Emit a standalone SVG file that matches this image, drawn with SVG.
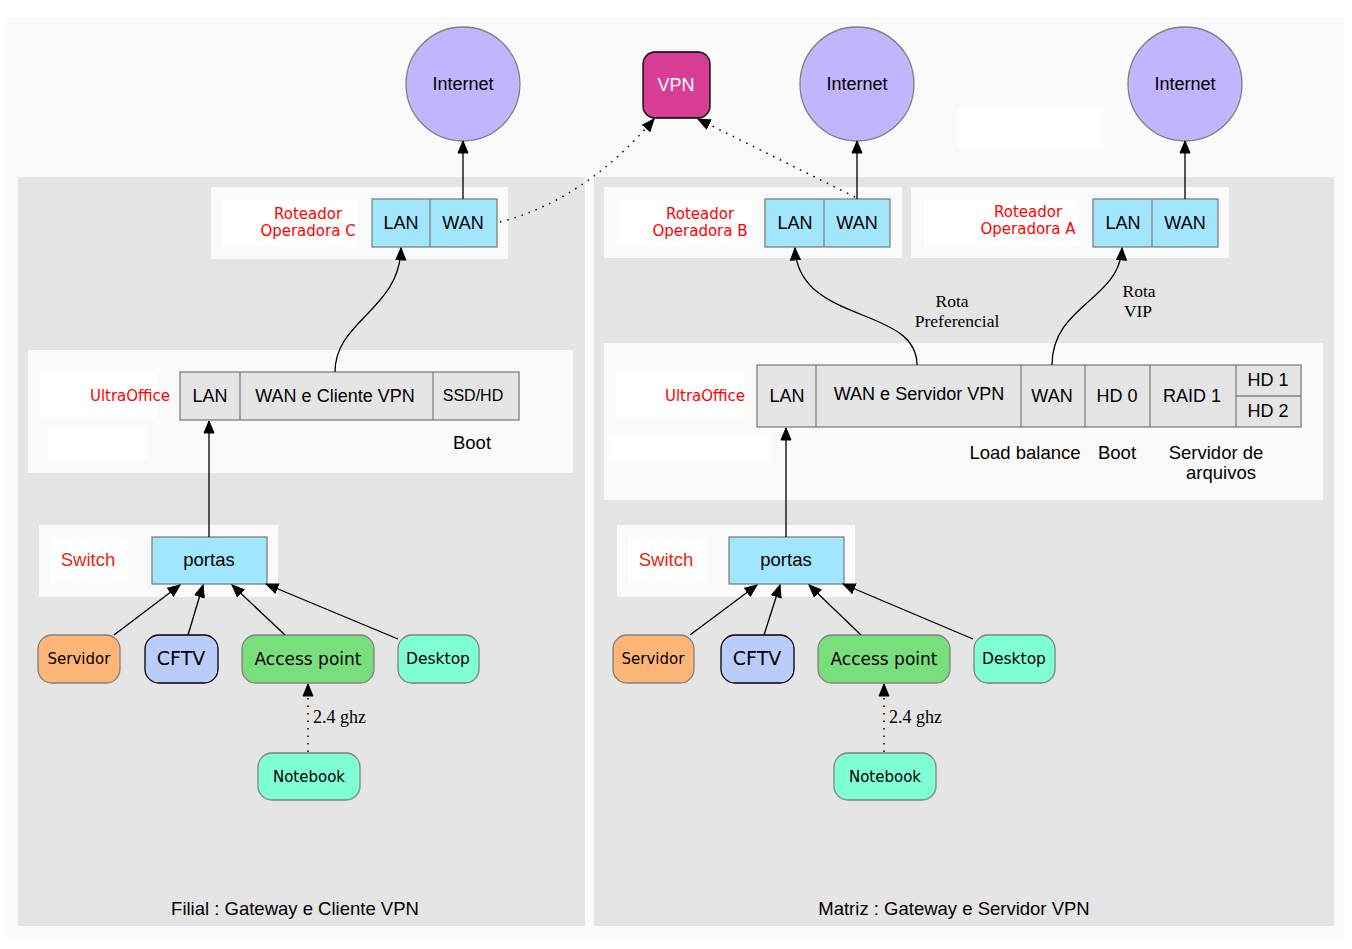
<svg xmlns="http://www.w3.org/2000/svg" width="1352" height="949" viewBox="0 0 1352 949">
<defs>
<marker id="ah" markerUnits="userSpaceOnUse" markerWidth="14" markerHeight="12" refX="12.5" refY="5.5" orient="auto" viewBox="0 0 14 11">
<path d="M0.5,0.5 L12.5,5.5 L0.5,10.5 z" fill="#000" stroke="#000" stroke-width="1"/>
</marker>
<style>
.bg{fill:#fafafa}
.cl{fill:#e5e5e5}
.sub{fill:#fafafa}
.wh{fill:#ffffff}
.rec{fill:#a1e6fd;stroke:#808080;stroke-width:1.3}
.grec{fill:#e5e5e5;stroke:#808080;stroke-width:1.3}
.inet{fill:#c1b5fd;stroke:#808080;stroke-width:1.3}
.sans{font-family:"Liberation Sans",Arial,sans-serif;fill:#000}
.dv{font-family:"DejaVu Sans",sans-serif;fill:#000}
.ser{font-family:"Liberation Serif","Times New Roman",serif;fill:#000}
.red{font-family:"DejaVu Sans",sans-serif;fill:#ff0000;font-size:15px}
.sw{font-family:"Liberation Sans",Arial,sans-serif;fill:#e2290f;font-size:18.5px}
.e{fill:none;stroke:#000;stroke-width:1.3;marker-end:url(#ah)}
.d{fill:none;stroke:#000;stroke-width:1.5;stroke-dasharray:1.5,6;marker-end:url(#ah)}
.nd{stroke:#808080;stroke-width:1.3}
</style>
</defs>
<rect x="0" y="0" width="1352" height="949" fill="#ffffff"/>
<rect class="bg" x="7" y="17" width="1337" height="920"/>
<rect class="wh" x="958" y="109" width="145" height="40"/>

<g id="cluster_filial">
<rect class="cl" x="18" y="177" width="567" height="749"/>
<text class="sans" x="295" y="915" font-size="18.5" text-anchor="middle">Filial : Gateway e Cliente VPN</text>
</g>
<g id="cluster_matriz">
<rect class="cl" x="594" y="177" width="740" height="749"/>
<text class="sans" x="954" y="915" font-size="18.5" text-anchor="middle">Matriz : Gateway e Servidor VPN</text>
</g>

<g id="internet_c"><circle class="inet" cx="463" cy="84" r="57"/><text class="sans" x="463" y="90" font-size="18" text-anchor="middle">Internet</text></g>
<g id="internet_b"><circle class="inet" cx="857" cy="84" r="57"/><text class="sans" x="857" y="90" font-size="18" text-anchor="middle">Internet</text></g>
<g id="internet_a"><circle class="inet" cx="1185" cy="84" r="57"/><text class="sans" x="1185" y="90" font-size="18" text-anchor="middle">Internet</text></g>
<g id="vpn"><rect x="643" y="52" width="67" height="66" rx="12" fill="#d73d95" stroke="#000" stroke-width="1.3"/><text class="sans" x="676" y="91" font-size="18" style="fill:#ffffff" text-anchor="middle">VPN</text></g>

<g id="roteador_c">
<rect class="sub" x="211" y="187" width="297" height="72"/>
<rect class="wh" x="223" y="200" width="135" height="47"/>
<text class="red" x="308" y="219" text-anchor="middle">Roteador</text>
<text class="red" x="308" y="236" text-anchor="middle">Operadora C</text>
<rect class="rec" x="372" y="199" width="125" height="48"/>
<line x1="430" y1="199" x2="430" y2="247" stroke="#808080" stroke-width="1.3"/>
<text class="sans" x="401" y="229" font-size="18" text-anchor="middle">LAN</text>
<text class="sans" x="463" y="229" font-size="18" text-anchor="middle">WAN</text>
</g>
<g id="roteador_b">
<rect class="sub" x="604" y="187" width="298" height="71"/>
<rect class="wh" x="617" y="200" width="135" height="47"/>
<text class="red" x="700" y="219" text-anchor="middle">Roteador</text>
<text class="red" x="700" y="236" text-anchor="middle">Operadora B</text>
<rect class="rec" x="765" y="199" width="125" height="48"/>
<line x1="824" y1="199" x2="824" y2="247" stroke="#808080" stroke-width="1.3"/>
<text class="sans" x="795" y="229" font-size="18" text-anchor="middle">LAN</text>
<text class="sans" x="857" y="229" font-size="18" text-anchor="middle">WAN</text>
</g>
<g id="roteador_a">
<rect class="sub" x="911" y="187" width="318" height="71"/>
<rect class="wh" x="924" y="200" width="155" height="47"/>
<text class="red" x="1028" y="217" text-anchor="middle">Roteador</text>
<text class="red" x="1028" y="234" text-anchor="middle">Operadora A</text>
<rect class="rec" x="1093" y="199" width="125" height="48"/>
<line x1="1152" y1="199" x2="1152" y2="247" stroke="#808080" stroke-width="1.3"/>
<text class="sans" x="1123" y="229" font-size="18" text-anchor="middle">LAN</text>
<text class="sans" x="1185" y="229" font-size="18" text-anchor="middle">WAN</text>
</g>

<g id="ultraoffice_filial">
<rect class="sub" x="28" y="350" width="545" height="123"/>
<rect class="wh" x="40" y="373" width="117" height="47"/>
<rect class="wh" x="48" y="427" width="99" height="32"/>
<text class="red" x="130" y="401" text-anchor="middle">UltraOffice</text>
<rect class="grec" x="180" y="372" width="339" height="48"/>
<line x1="240" y1="372" x2="240" y2="420" stroke="#808080" stroke-width="1.3"/>
<line x1="433" y1="372" x2="433" y2="420" stroke="#808080" stroke-width="1.3"/>
<text class="sans" x="210" y="402" font-size="18" text-anchor="middle">LAN</text>
<text class="sans" x="335" y="402" font-size="18" text-anchor="middle">WAN e Cliente VPN</text>
<text class="sans" x="473" y="401" font-size="16" text-anchor="middle">SSD/HD</text>
<text class="sans" x="472" y="449" font-size="18.5" text-anchor="middle">Boot</text>
</g>

<g id="ultraoffice_matriz">
<rect class="sub" x="604" y="343" width="719" height="157"/>
<rect class="wh" x="616" y="373" width="128" height="47"/>
<rect class="wh" x="609" y="433" width="161" height="30"/>
<text class="red" x="705" y="401" text-anchor="middle">UltraOffice</text>
<rect class="grec" x="757" y="365" width="544" height="62"/>
<line x1="816" y1="365" x2="816" y2="427" stroke="#808080" stroke-width="1.3"/>
<line x1="1021" y1="365" x2="1021" y2="427" stroke="#808080" stroke-width="1.3"/>
<line x1="1085" y1="365" x2="1085" y2="427" stroke="#808080" stroke-width="1.3"/>
<line x1="1150" y1="365" x2="1150" y2="427" stroke="#808080" stroke-width="1.3"/>
<line x1="1236" y1="365" x2="1236" y2="427" stroke="#808080" stroke-width="1.3"/>
<line x1="1236" y1="396" x2="1301" y2="396" stroke="#808080" stroke-width="1.3"/>
<text class="sans" x="787" y="402" font-size="18" text-anchor="middle">LAN</text>
<text class="sans" x="919" y="400" font-size="18" text-anchor="middle">WAN e Servidor VPN</text>
<text class="sans" x="1052" y="402" font-size="18" text-anchor="middle">WAN</text>
<text class="sans" x="1117" y="402" font-size="18" text-anchor="middle">HD 0</text>
<text class="sans" x="1192" y="402" font-size="18" text-anchor="middle">RAID 1</text>
<text class="sans" x="1268" y="386" font-size="18" text-anchor="middle">HD 1</text>
<text class="sans" x="1268" y="417" font-size="18" text-anchor="middle">HD 2</text>
<text class="sans" x="1025" y="459" font-size="18.5" text-anchor="middle">Load balance</text>
<text class="sans" x="1117" y="459" font-size="18.5" text-anchor="middle">Boot</text>
<text class="sans" x="1216" y="459" font-size="18.5" text-anchor="middle">Servidor de</text>
<text class="sans" x="1221" y="479" font-size="18.5" text-anchor="middle">arquivos</text>
</g>

<g id="switch_filial">
<rect class="sub" x="39" y="525" width="239" height="72"/>
<rect class="wh" x="50" y="537" width="78" height="46"/>
<text class="sw" x="88" y="566" text-anchor="middle">Switch</text>
<rect class="rec" x="152" y="537" width="115" height="47"/>
<text class="sans" x="209" y="566" font-size="18.5" text-anchor="middle">portas</text>
</g>
<g id="switch_matriz">
<rect class="sub" x="617" y="525" width="238" height="72"/>
<rect class="wh" x="628" y="537" width="78" height="46"/>
<text class="sw" x="666" y="566" text-anchor="middle">Switch</text>
<rect class="rec" x="729" y="537" width="115" height="47"/>
<text class="sans" x="786" y="566" font-size="18.5" text-anchor="middle">portas</text>
</g>

<g id="servidor_f"><rect class="nd" x="38" y="635" width="82" height="48" rx="14" fill="#fdb577"/><text class="dv" x="79" y="664" font-size="15" text-anchor="middle">Servidor</text></g>
<g id="cftv_f"><rect x="145" y="635" width="73" height="48" rx="14" fill="#b9cdf8" stroke="#000" stroke-width="1.3"/><text class="dv" x="181" y="665" font-size="19" text-anchor="middle">CFTV</text></g>
<g id="ap_f"><rect class="nd" x="242" y="635" width="132" height="48" rx="14" fill="#79df7c"/><text class="dv" x="308" y="665" font-size="17" text-anchor="middle">Access point</text></g>
<g id="desktop_f"><rect class="nd" x="398" y="635" width="81" height="48" rx="14" fill="#7effd4"/><text class="dv" x="438" y="664" font-size="15.5" text-anchor="middle">Desktop</text></g>
<g id="notebook_f"><rect class="nd" x="258" y="753" width="102" height="47" rx="14" fill="#7effd4"/><text class="dv" x="309" y="782" font-size="15" text-anchor="middle">Notebook</text></g>

<g id="servidor_m"><rect class="nd" x="613" y="635" width="81" height="48" rx="14" fill="#fdb577"/><text class="dv" x="653" y="664" font-size="15" text-anchor="middle">Servidor</text></g>
<g id="cftv_m"><rect x="721" y="635" width="73" height="48" rx="14" fill="#b9cdf8" stroke="#000" stroke-width="1.3"/><text class="dv" x="757" y="665" font-size="19" text-anchor="middle">CFTV</text></g>
<g id="ap_m"><rect class="nd" x="818" y="635" width="132" height="48" rx="14" fill="#79df7c"/><text class="dv" x="884" y="665" font-size="17" text-anchor="middle">Access point</text></g>
<g id="desktop_m"><rect class="nd" x="974" y="635" width="81" height="48" rx="14" fill="#7effd4"/><text class="dv" x="1014" y="664" font-size="15.5" text-anchor="middle">Desktop</text></g>
<g id="notebook_m"><rect class="nd" x="834" y="753" width="102" height="47" rx="14" fill="#7effd4"/><text class="dv" x="885" y="782" font-size="15" text-anchor="middle">Notebook</text></g>

<g id="connectors">
<line class="e" x1="463" y1="199" x2="463" y2="141"/>
<line class="e" x1="857" y1="199" x2="857" y2="141"/>
<line class="e" x1="1185" y1="199" x2="1185" y2="141"/>
<path class="d" d="M500,222 Q585,200 654,119"/>
<path class="d" d="M855,197 L698,119"/>
<path class="e" d="M335,372 C335,320 400,310 401,248"/>
<path class="e" d="M917,365 C917,305 798,325 795,248"/>
<path class="e" d="M1052,365 C1052,305 1120,300 1122,248"/>
<text class="ser" x="952" y="307" font-size="17.5" text-anchor="middle">Rota</text>
<text class="ser" x="957" y="327" font-size="17.5" text-anchor="middle">Preferencial</text>
<text class="ser" x="1139" y="297" font-size="17.5" text-anchor="middle">Rota</text>
<text class="ser" x="1138" y="317" font-size="17.5" text-anchor="middle">VIP</text>
<line class="e" x1="209" y1="537" x2="209" y2="421"/>
<line class="e" x1="786" y1="537" x2="786" y2="428"/>
<line class="e" x1="114" y1="635" x2="180" y2="585"/>
<line class="e" x1="188" y1="635" x2="203" y2="585"/>
<line class="e" x1="285" y1="635" x2="232" y2="585"/>
<line class="e" x1="398" y1="639" x2="266" y2="584"/>
<line class="e" x1="690" y1="635" x2="757" y2="585"/>
<line class="e" x1="764" y1="635" x2="780" y2="585"/>
<line class="e" x1="861" y1="635" x2="809" y2="585"/>
<line class="e" x1="973" y1="639" x2="843" y2="584"/>
<line class="d" x1="308" y1="752" x2="308" y2="684"/>
<line class="d" x1="884" y1="752" x2="884" y2="684"/>
<text class="ser" x="313" y="723" font-size="18">2.4 ghz</text>
<text class="ser" x="889" y="723" font-size="18">2.4 ghz</text>
</g>
</svg>
